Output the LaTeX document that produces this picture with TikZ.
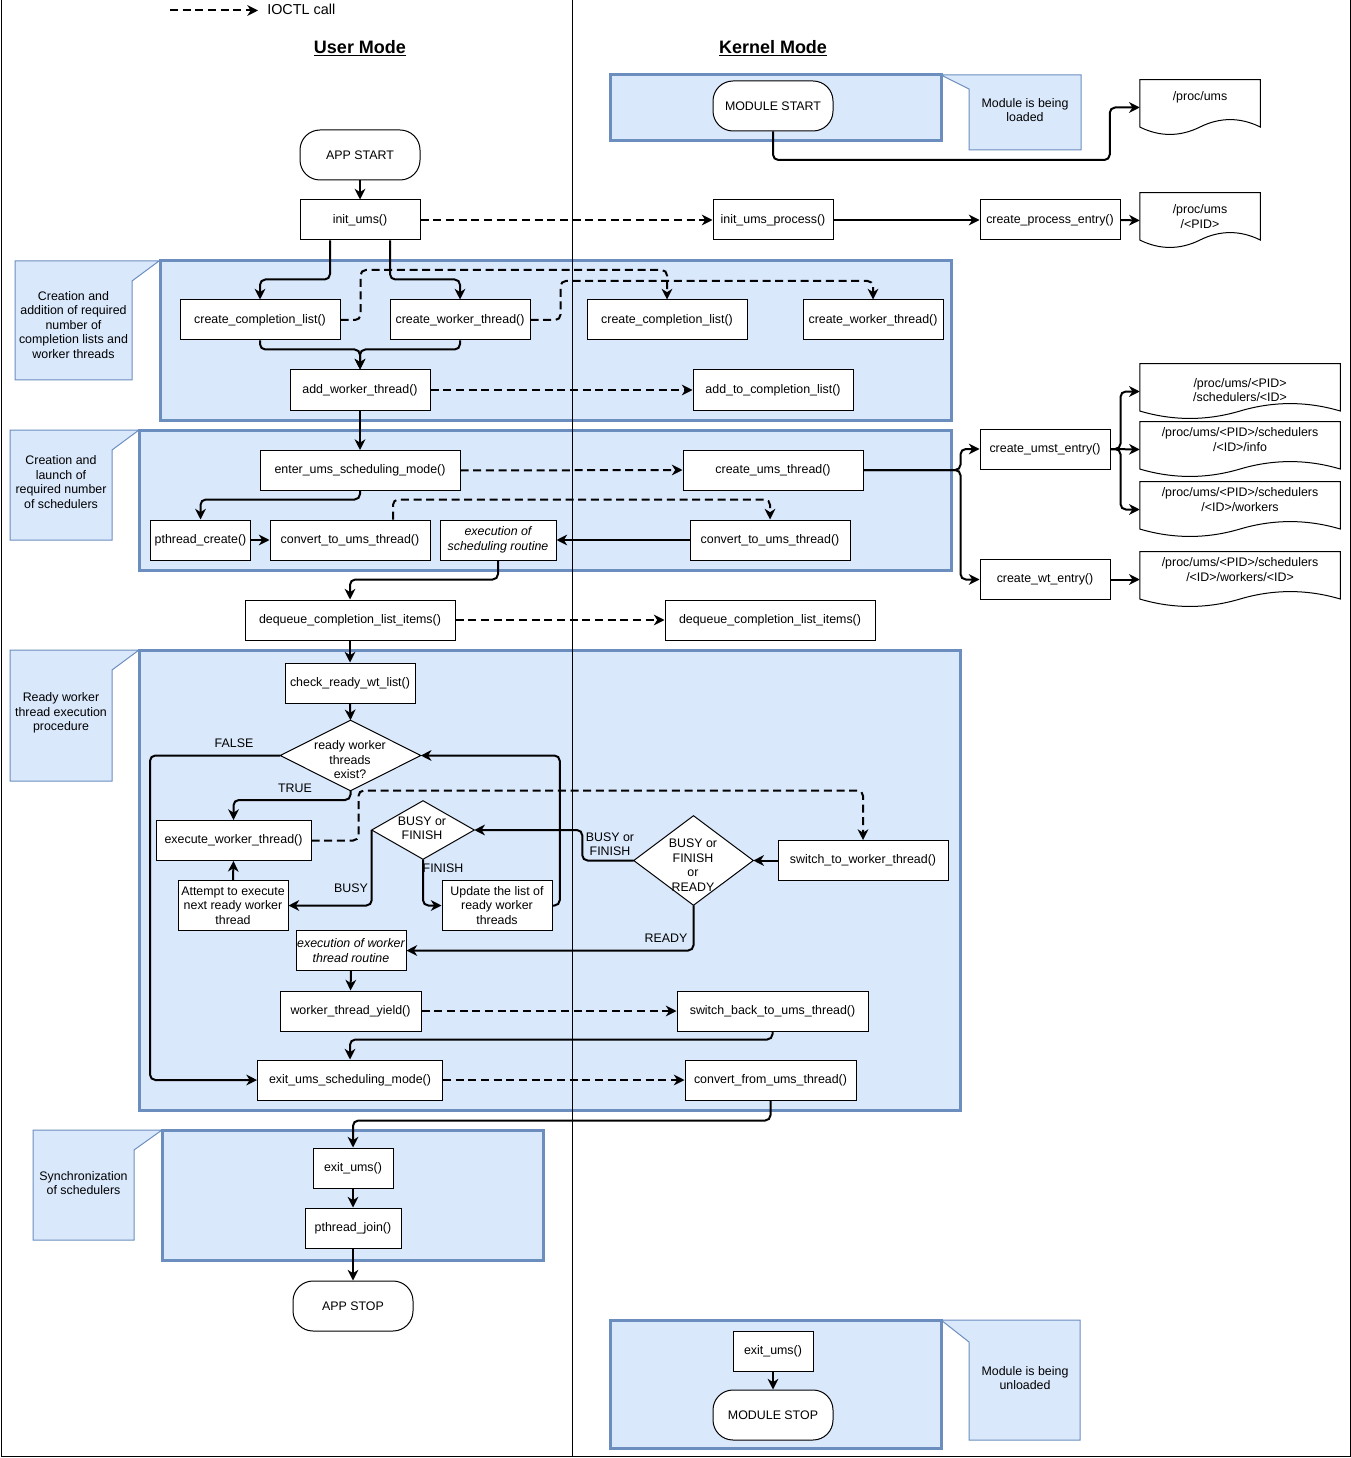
\documentclass[tikz,border=0pt]{standalone}
\usepackage{fontspec}
\setmainfont{Liberation Sans}
\usetikzlibrary{arrows.meta,calc}
\definecolor{gfill}{HTML}{DAE8FC}
\definecolor{gdraw}{HTML}{6C8EBF}
\newcommand\docwave[2]{\draw[docline] (#1.north west) -- (#1.north east) -- ($(#1.south east)+(0,-8.25)$) .. controls ($(#1.south east)+(-#2/6,-18.15)$) and ($(#1.south)+(#2/6,-18.15)$) .. ($(#1.south)+(0,-8.25)$) .. controls ($(#1.south)+(-#2/6,1.65)$) and ($(#1.south west)+(#2/6,1.65)$) .. ($(#1.south west)+(0,-8.25)$) -- cycle;}
\begin{document}
\begin{tikzpicture}[x=0.75pt,y=-0.75pt,
 every node/.style={font=\fontsize{9.3}{10.9}\selectfont, inner sep=0pt, align=center},
 sz/.style 2 args={minimum width=#1*0.75pt,minimum height=#2*0.75pt},
 box/.style={draw=black, fill=white, line width=0.75pt, rectangle},
 term/.style={box, rounded corners=15pt},
 grp/.style={fill=gfill, draw=gdraw, line width=2.25pt},
 note/.style={fill=gfill, draw=gdraw, line width=0.75pt},
 docbox/.style={rectangle},
 docline/.style={draw=black, fill=white, line width=0.75pt},
 conn/.style={line width=1.5pt, rounded corners=4pt, -{Stealth[length=8pt,width=8pt,inset=2.5pt]}},
 ioctl/.style={conn, dash pattern=on 6pt off 3.5pt},
 titl/.style={font=\fontsize{13.5}{15}\selectfont\bfseries}]
\useasboundingbox (0,0) rectangle (1351,1458);
% frame
\draw[line width=0.75pt] (1,0) -- (1,1456) -- (1350,1456) -- (1350,0);
% groups
\draw[grp] (610,75) rectangle (941,141);
\draw[grp] (160,261) rectangle (951,420);
\draw[grp] (139,430) rectangle (951,570);
\draw[grp] (139,650) rectangle (960,1110);
\draw[grp] (162,1130) rectangle (543,1260);
\draw[grp] (610,1320) rectangle (941,1448);
% divider
\draw[line width=0.75pt] (572.5,0) -- (572.5,1456);
% notes
\draw[note] (15,261) -- (159,261) -- (132,281) -- (132,380) -- (15,380) -- cycle;
\node (n1) at (73.5,325) {Creation and\\addition of required\\number of\\completion lists and\\worker threads};
\draw[note] (10,430) -- (139,430) -- (112,450) -- (112,540) -- (10,540) -- cycle;
\node (n2) at (61,482) {Creation and\\launch of\\required number\\of schedulers};
\draw[note] (10,650) -- (139,650) -- (112,670) -- (112,781) -- (10,781) -- cycle;
\node (n3) at (61,713) {Ready worker\\thread execution\\procedure};
\draw[note] (33,1130) -- (162,1130) -- (134,1150) -- (134,1240) -- (33,1240) -- cycle;
\node (n4) at (83.5,1183) {Synchronization\\of schedulers};
\draw[note] (941,75) -- (1081,75) -- (1081,150) -- (969,150) -- (969,89) -- cycle;
\node (n5) at (1025,110) {Module is being\\loaded};
\draw[note] (941,1320) -- (1080,1320) -- (1080,1440) -- (969,1440) -- (969,1342) -- cycle;
\node (n6) at (1025,1378) {Module is being\\unloaded};
% legend and titles
\coordinate (lgA) at (170,10.5);
\coordinate (lgB) at (258,10.5);
\node[anchor=west,font=\fontsize{10.8}{12}\selectfont] (lgT) at (267,9) {IOCTL call};
\draw[ioctl] (lgA) -- (lgB);
\node[titl] (um) at (360,48) {\underline{User Mode}};
\node[titl] (km) at (773,48) {\underline{Kernel Mode}};
% user nodes
\node[term,sz={120}{50}] (appstart) at (360,155) {APP START};
\node[box,sz={120}{40}] (initums) at (360,220) {init\_ums()};
\node[box,sz={160}{40}] (ccl) at (260,320) {create\_completion\_list()};
\node[box,sz={140}{40}] (cwt) at (460,320) {create\_worker\_thread()};
\node[box,sz={140}{40}] (addwt) at (360,390) {add\_worker\_thread()};
\node[box,sz={200}{40}] (enter) at (360,470.5) {enter\_ums\_scheduling\_mode()};
\node[box,sz={100}{40}] (pcreate) at (200.5,540) {pthread\_create()};
\node[box,sz={160}{40}] (convu) at (350,540) {convert\_to\_ums\_thread()};
\node[box,sz={116}{40}] (execsr) at (498,540) {\itshape execution of\\\itshape scheduling routine};
\node[box,sz={210}{40}] (dequ) at (350,620) {dequeue\_completion\_list\_items()};
\node[box,sz={130}{40}] (check) at (350,683) {check\_ready\_wt\_list()};
\node[docbox,sz={140}{70}] (dia1) at (350.5,755.5) {};
\draw[box] (dia1.north) -- (dia1.east) -- (dia1.south) -- (dia1.west) -- cycle;
\node (dia1t) at (350,760) {ready worker\\threads\\exist?};
\node[box,sz={155}{40}] (exwt) at (233.5,840.5) {execute\_worker\_thread()};
\node[box,sz={110}{50}] (attempt) at (233,905.5) {Attempt to execute\\next ready worker\\thread};
\node[docbox,sz={102}{58}] (dia2) at (423,830) {};
\draw[box] (dia2.north) -- (dia2.east) -- (dia2.south) -- (dia2.west) -- cycle;
\node (dia2t) at (422,828) {BUSY or\\FINISH};
\node[box,sz={110}{50}] (update) at (497,905.5) {Update the list of\\ready worker\\threads};
\node[box,sz={110}{40}] (exwr) at (351,950.5) {\itshape execution of worker\\\itshape thread routine};
\node[box,sz={141}{40}] (wty) at (350.5,1011) {worker\_thread\_yield()};
\node[box,sz={185}{40}] (exsm) at (350,1080) {exit\_ums\_scheduling\_mode()};
\node[box,sz={80}{40}] (exitu) at (353,1168) {exit\_ums()};
\node[box,sz={96}{40}] (pjoin) at (353,1228) {pthread\_join()};
\node[term,sz={120}{50}] (appstop) at (353,1306) {APP STOP};
% kernel nodes
\node[term,sz={120}{50}] (modstart) at (773,106) {MODULE START};
\node[box,sz={120}{40}] (initproc) at (773,220) {init\_ums\_process()};
\node[box,sz={140}{40}] (cpe) at (1050,220) {create\_process\_entry()};
\node[docbox,sz={120}{55}] (doc0) at (1200,107.5) {};
\docwave{doc0}{120}
\node (doc0t) at (1200,97.5) {/proc/ums};
\node[docbox,sz={120}{55}] (doc1) at (1200,220.5) {};
\docwave{doc1}{120}
\node (doc1t) at (1200,216.5) {/proc/ums\\/<PID>};
\node[box,sz={160}{40}] (kccl) at (667,320) {create\_completion\_list()};
\node[box,sz={140}{40}] (kcwt) at (873,320) {create\_worker\_thread()};
\node[box,sz={160}{40}] (addcl) at (773,390) {add\_to\_completion\_list()};
\node[box,sz={180}{40}] (cut) at (773,470) {create\_ums\_thread()};
\node[box,sz={160}{40}] (convk) at (770,540) {convert\_to\_ums\_thread()};
\node[box,sz={130}{40}] (cue) at (1045,449) {create\_umst\_entry()};
\node[box,sz={130}{40}] (cwe) at (1045,579.5) {create\_wt\_entry()};
\node[docbox,sz={200}{55}] (d1) at (1240,391.5) {};
\docwave{d1}{200}
\node (d1t) at (1240,390) {/proc/ums/<PID>\\/schedulers/<ID>};
\node[docbox,sz={200}{55}] (d2) at (1240,449.5) {};
\docwave{d2}{200}
\node (d2t) at (1240,439.5) {/proc/ums/<PID>/schedulers\\/<ID>/info};
\node[docbox,sz={200}{55}] (d3) at (1240,509.5) {};
\docwave{d3}{200}
\node (d3t) at (1240,499.5) {/proc/ums/<PID>/schedulers\\/<ID>/workers};
\node[docbox,sz={200}{55}] (d4) at (1240,579.5) {};
\docwave{d4}{200}
\node (d4t) at (1240,569.5) {/proc/ums/<PID>/schedulers\\/<ID>/workers/<ID>};
\node[box,sz={210}{40}] (dequk) at (770,620) {dequeue\_completion\_list\_items()};
\node[docbox,sz={119}{89}] (dia3) at (693.5,860.5) {};
\draw[box] (dia3.north) -- (dia3.east) -- (dia3.south) -- (dia3.west) -- cycle;
\node (dia3t) at (693,865) {BUSY or\\FINISH\\or\\READY};
\node[box,sz={170}{40}] (swt) at (863,860.5) {switch\_to\_worker\_thread()};
\node[box,sz={191}{40}] (sbu) at (772.5,1011) {switch\_back\_to\_ums\_thread()};
\node[box,sz={171}{40}] (cfu) at (770.5,1080) {convert\_from\_ums\_thread()};
\node[box,sz={80}{40}] (kexit) at (773,1351) {exit\_ums()};
\node[term,sz={120}{50}] (modstop) at (773,1415) {MODULE STOP};
% edge labels
\node (lfalse) at (234,743) {FALSE};
\node (ltrue) at (295,788) {TRUE};
\node (lbusy) at (351,888) {BUSY};
\node (lfinish) at (443,868) {FINISH};
\node (lbf) at (610,844) {BUSY or\\FINISH};
\node (lready) at (666,938.5) {READY};
% connectors
\draw[conn] (appstart.south) -- (initums.north);
\draw[ioctl] (initums.east) -- (initproc.west);
\draw[conn] (initproc.east) -- (cpe.west);
\draw[conn] (cpe.east) -- (doc1.west);
\draw[conn] (modstart.south) |- ($(doc0.west)+(-30,52.5)$) |- (doc0.west);
\draw[conn] ($(initums.south)+(-30,0)$) |- ($(ccl.north)+(0,-20)$) -- (ccl.north);
\draw[conn] ($(initums.south)+(30,0)$) |- ($(cwt.north)+(0,-20)$) -- (cwt.north);
\draw[conn] (ccl.south) |- ($(addwt.north)+(0,-20)$) -- (addwt.north);
\draw[conn] (cwt.south) |- ($(addwt.north)+(0,-20)$) -- (addwt.north);
\draw[ioctl] (ccl.east) -| ($(ccl.east)+(20,-50)$) -| (kccl.north);
\draw[ioctl] (cwt.east) -| ($(cwt.east)+(30,-39)$) -| (kcwt.north);
\draw[ioctl] (addwt.east) -- (addcl.west);
\draw[conn] (addwt.south) -- (enter.north);
\draw[ioctl] (enter.east) -- (cut.west);
\draw[conn] (enter.south) |- ($(pcreate.north)+(0,-20)$) -- (pcreate.north);
\draw[conn] (pcreate.east) -- (convu.west);
\draw[ioctl] ($(convu.north)+(43,0)$) |- ($(convk.north)+(0,-20)$) -- (convk.north);
\draw[conn] (convk.west) -- (execsr.east);
\draw[conn] (execsr.south) |- ($(dequ.north)+(0,-20)$) -- (dequ.north);
\draw[conn] (cut.east) -- ++(97,0) |- (cue.west);
\draw[conn] (cut.east) -- ++(97,0) |- (cwe.west);
\draw[conn] (cue.east) -- ++(10,0) |- (d1.west);
\draw[conn] (cue.east) -- (d2.west);
\draw[conn] (cue.east) -- ++(10,0) |- (d3.west);
\draw[conn] (cwe.east) -- (d4.west);
\draw[ioctl] (dequ.east) -- (dequk.west);
\draw[conn] (dequ.south) -- (check.north);
\draw[conn] (check.south) -- (dia1.north);
\draw[conn] (dia1.west) -| ($(exsm.west)+(-107,0)$) -- (exsm.west);
\draw[conn] (dia1.south) |- ($(exwt.north)+(0,-20)$) -- (exwt.north);
\draw[conn] (attempt.north) -- (exwt.south);
\draw[conn] (dia2.west) |- (attempt.east);
\draw[conn] (dia2.south) |- (update.west);
\draw[conn] (update.east) -| ($(dia1.east)+(139,0)$) -- (dia1.east);
\draw[ioctl] (exwt.east) -| ($(exwt.east)+(47,-50)$) -| (swt.north);
\draw[conn] (swt.west) -- (dia3.east);
\draw[conn] (dia3.west) -| ($(dia2.east)+(108,0)$) -- (dia2.east);
\draw[conn] (dia3.south) |- (exwr.east);
\draw[conn] (exwr.south) -- (wty.north);
\draw[ioctl] (wty.east) -- (sbu.west);
\draw[conn] (sbu.south) |- ($(exsm.north)+(0,-20)$) -- (exsm.north);
\draw[ioctl] (exsm.east) -- (cfu.west);
\draw[conn] (cfu.south) |- ($(exitu.north)+(0,-27)$) -- (exitu.north);
\draw[conn] (exitu.south) -- (pjoin.north);
\draw[conn] (pjoin.south) -- (appstop.north);
\draw[conn] (kexit.south) -- (modstop.north);
\end{tikzpicture}
\end{document}
